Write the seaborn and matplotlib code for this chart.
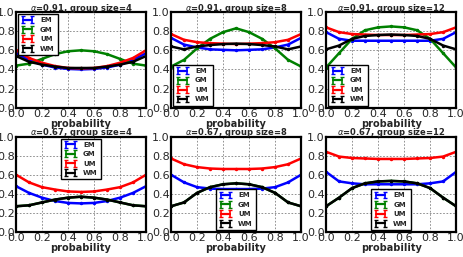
import numpy as np
import pandas as pd
import seaborn as sns
import matplotlib
matplotlib.use("Agg")
import matplotlib.pyplot as plt

# probabilities on the x axis
prob = [0.0, 0.1, 0.2, 0.3, 0.4, 0.5, 0.6, 0.7, 0.8, 0.9, 1.0]
methods = ['EM', 'GM', 'UM', 'WM']
colors = {'EM': 'blue', 'GM': 'green', 'UM': 'red', 'WM': 'black'}

# alpha = 0.91
em_91_4 = [0.57, 0.50, 0.45, 0.42, 0.405, 0.40, 0.405, 0.42, 0.45, 0.50, 0.57]
gm_91_4 = [0.44, 0.46, 0.51, 0.56, 0.59, 0.60, 0.59, 0.56, 0.51, 0.46, 0.44]
um_91_4 = [0.60, 0.52, 0.47, 0.435, 0.415, 0.41, 0.415, 0.435, 0.47, 0.52, 0.60]
wm_91_4 = [0.54, 0.48, 0.45, 0.43, 0.415, 0.415, 0.415, 0.43, 0.45, 0.48, 0.54]

em_91_8 = [0.73, 0.66, 0.63, 0.61, 0.605, 0.60, 0.605, 0.61, 0.63, 0.66, 0.73]
gm_91_8 = [0.43, 0.50, 0.62, 0.72, 0.79, 0.83, 0.79, 0.72, 0.62, 0.50, 0.43]
um_91_8 = [0.77, 0.71, 0.685, 0.675, 0.67, 0.665, 0.67, 0.675, 0.685, 0.71, 0.77]
wm_91_8 = [0.64, 0.61, 0.64, 0.655, 0.665, 0.67, 0.665, 0.655, 0.64, 0.61, 0.64]

em_91_12 = [0.79, 0.72, 0.70, 0.70, 0.70, 0.70, 0.70, 0.70, 0.70, 0.72, 0.79]
gm_91_12 = [0.42, 0.57, 0.72, 0.81, 0.84, 0.85, 0.84, 0.81, 0.72, 0.57, 0.42]
um_91_12 = [0.84, 0.79, 0.77, 0.765, 0.76, 0.76, 0.76, 0.765, 0.77, 0.79, 0.84]
wm_91_12 = [0.61, 0.65, 0.72, 0.75, 0.76, 0.765, 0.76, 0.75, 0.72, 0.65, 0.61]

# alpha = 0.67 (GM lies under WM)
em_67_4 = [0.48, 0.41, 0.36, 0.325, 0.305, 0.30, 0.305, 0.325, 0.36, 0.41, 0.48]
gm_67_4 = [0.27, 0.28, 0.31, 0.34, 0.36, 0.37, 0.36, 0.34, 0.31, 0.28, 0.27]
um_67_4 = [0.60, 0.52, 0.47, 0.445, 0.425, 0.42, 0.425, 0.445, 0.47, 0.52, 0.60]
wm_67_4 = [0.27, 0.28, 0.31, 0.34, 0.36, 0.37, 0.36, 0.34, 0.31, 0.28, 0.27]

em_67_8 = [0.60, 0.52, 0.47, 0.455, 0.45, 0.45, 0.45, 0.455, 0.47, 0.52, 0.60]
gm_67_8 = [0.27, 0.31, 0.41, 0.47, 0.50, 0.51, 0.50, 0.47, 0.41, 0.31, 0.27]
um_67_8 = [0.77, 0.71, 0.68, 0.665, 0.66, 0.66, 0.66, 0.665, 0.68, 0.71, 0.77]
wm_67_8 = [0.27, 0.31, 0.41, 0.47, 0.50, 0.51, 0.50, 0.47, 0.41, 0.31, 0.27]

em_67_12 = [0.63, 0.53, 0.51, 0.50, 0.50, 0.50, 0.50, 0.50, 0.51, 0.53, 0.63]
gm_67_12 = [0.27, 0.36, 0.46, 0.51, 0.53, 0.535, 0.53, 0.51, 0.46, 0.36, 0.27]
um_67_12 = [0.84, 0.79, 0.775, 0.77, 0.765, 0.765, 0.765, 0.77, 0.775, 0.79, 0.84]
wm_67_12 = [0.27, 0.36, 0.46, 0.51, 0.53, 0.535, 0.53, 0.51, 0.46, 0.36, 0.27]

panels = [
    ('0.91', 4, [em_91_4, gm_91_4, um_91_4, wm_91_4], 'upper left'),
    ('0.91', 8, [em_91_8, gm_91_8, um_91_8, wm_91_8], 'lower left'),
    ('0.91', 12, [em_91_12, gm_91_12, um_91_12, wm_91_12], 'lower left'),
    ('0.67', 4, [em_67_4, gm_67_4, um_67_4, wm_67_4], 'upper center'),
    ('0.67', 8, [em_67_8, gm_67_8, um_67_8, wm_67_8], 'lower center'),
    ('0.67', 12, [em_67_12, gm_67_12, um_67_12, wm_67_12], 'lower center'),
]

sns.set_style("white")
plt.rcParams['font.family'] = ['DejaVu Sans']

fig, axes = plt.subplots(2, 3, figsize=(4.64, 2.57), dpi=100)
fig.subplots_adjust(left=0.0345, right=0.983, top=0.953, bottom=0.097,
                    wspace=0.192, hspace=0.302)

for ax, (alpha, gsize, series, loc) in zip(axes.flat, panels):
    df = pd.DataFrame({
        'probability': prob * len(methods),
        'value': sum(series, []),
        'method': np.repeat(methods, len(prob)),
    })
    sns.lineplot(data=df, x='probability', y='value', hue='method',
                 palette=colors, marker='o', markersize=2.5, markeredgewidth=0,
                 linewidth=1.8, legend=False, ax=ax)
    ax.set_xlim(0, 1)
    ax.set_ylim(0, 1)
    ax.set_xticks([0, 0.2, 0.4, 0.6, 0.8, 1.0])
    ax.set_yticks([0, 0.2, 0.4, 0.6, 0.8, 1.0])
    ax.tick_params(labelsize=8, direction='in', length=3, pad=1)
    ax.grid(True, color='gray', linestyle=(0, (2, 2)), linewidth=0.6)
    for s in ax.spines.values():
        s.set_linewidth(1.6)
        s.set_color('black')
    ax.set_title(r'$\alpha$=' + alpha + ', group size=' + str(gsize),
                 fontsize=6, fontweight='bold', pad=1)
    ax.set_xlabel('probability', fontsize=7, fontweight='bold', labelpad=0)
    ax.set_ylabel('')

    # errorbar style legend handles
    handles = []
    for m in methods:
        h = ax.errorbar([np.nan], [np.nan], yerr=[0.05], color=colors[m],
                        capsize=1.5, elinewidth=1.2, linewidth=1.6, label=m)
        handles.append(h)
    ax.legend(handles=handles, loc=loc, frameon=True,
              fancybox=False, edgecolor='black', framealpha=1,
              handlelength=1.8, labelspacing=0.5, borderpad=0.45,
              handletextpad=0.9, numpoints=2, borderaxespad=0.3,
              prop={'size': 5, 'weight': 'bold'})

fig.savefig('out.png', dpi=100)
